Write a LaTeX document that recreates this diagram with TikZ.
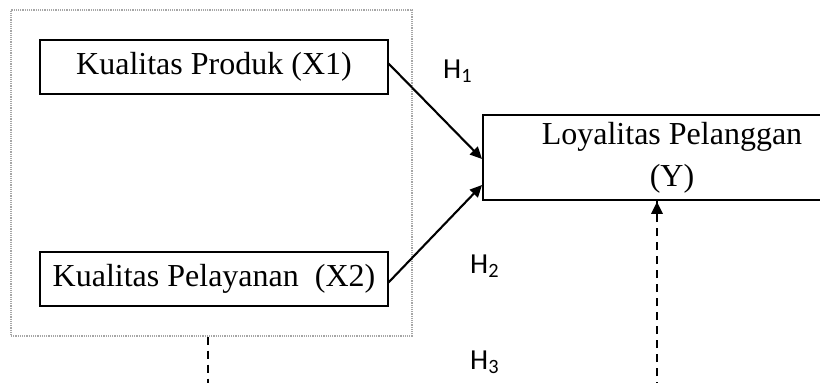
\documentclass[tikz,border=0pt]{standalone}
\usepackage{fontspec}
\setmainfont{Liberation Serif}
\newfontfamily\hfont{Carlito}
\usetikzlibrary{arrows.meta}
\begin{document}
\begin{tikzpicture}[x=1pt,y=-1pt,
  varbox/.style={draw=black,line width=1.9pt,inner sep=0pt,
    font=\fontsize{32}{42}\selectfont},
  hlabel/.style={anchor=base west,inner sep=0pt,
    font=\hfont\fontsize{29}{30}\selectfont},
  link/.style={line width=2.1pt,-{Triangle[length=12pt,width=11pt]}},
  dashlink/.style={line width=2.1pt,dash pattern=on 8pt off 6pt}]
\useasboundingbox (0,0) rectangle (820,383);
\begin{scope}
\clip (0,0) rectangle (820,383);
% independent variables inside a dotted frame
\node[draw=gray!70,densely dotted,line width=1.2pt,minimum width=401pt,
  minimum height=326pt,inner sep=0pt] (frame) at (211.5,173) {};
\node[varbox,minimum width=348pt,minimum height=54pt] (x1) at (214,67)
  {Kualitas Produk (X1)};
\node[varbox,minimum width=348pt,minimum height=54pt] (x2) at (214,279)
  {Kualitas Pelayanan\ \ (X2)};
% dependent variable
\node[varbox,minimum width=378pt,minimum height=85pt,align=center]
  (y) at (672,157.5) {Loyalitas Pelanggan\\(Y)};
% hypotheses
\coordinate (x1out) at (388,63);
\coordinate (x2out) at (388,283);
\draw[link] (x1out) -- (y.west |- 0,159);
\draw[link] (x2out) -- (y.west |- 0,185);
\coordinate (h3low) at (frame.south -| 208,0);
\coordinate (h3end) at (208,390);
\coordinate (ylow) at (657,390);
\draw[dashlink] (h3low) -- (h3end);
\draw[dashlink] (ylow) -- (y.south -| 657,0);
\fill (y.south -| 657,0) ++(0,0.9) -- ++(-6,12) -- ++(12,0) -- cycle;
\node[hlabel] (h1) at (443,78) {H\textsubscript{1}};
\node[hlabel] (h2) at (470,273) {H\textsubscript{2}};
\node[hlabel] (h3) at (470,369) {H\textsubscript{3}};
\end{scope}
\end{tikzpicture}
\end{document}
